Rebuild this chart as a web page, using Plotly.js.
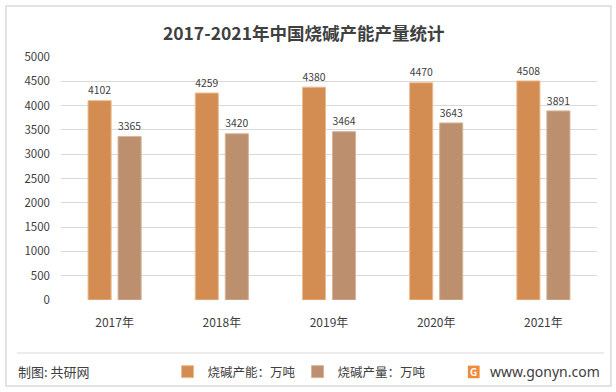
<!DOCTYPE html>
<html>
<head>
<meta charset="utf-8">
<script src="https://cdn.plot.ly/plotly-3.0.1.min.js"></script>
<style>html,body{margin:0;padding:0;background:#fff;}#chart{width:616px;height:392px;}</style>
</head>
<body>
<div id="chart"></div>
<script>
var categories = ['2017年', '2018年', '2019年', '2020年', '2021年'];
var capacity = [4102, 4259, 4380, 4470, 4508];
var output = [3365, 3420, 3464, 3643, 3891];
var seriesNames = ['烧碱产能：万吨', '烧碱产量：万吨'];
var yTicks = [0, 500, 1000, 1500, 2000, 2500, 3000, 3500, 4000, 4500, 5000];

var FONT = '"Microsoft YaHei", "Noto Sans CJK SC", "Noto Sans", sans-serif';

var traces = [
  {
    type: 'bar', name: seriesNames[0], x: categories, y: capacity,
    marker: {color: '#D38C51', line: {color: '#EDBD92', width: 1}},
    text: capacity.map(String), textposition: 'outside', cliponaxis: false,
    textfont: {family: FONT, size: 12.5, color: '#404040'}
  },
  {
    type: 'bar', name: seriesNames[1], x: categories, y: output,
    marker: {color: '#BC8F6F', line: {color: '#D6B59C', width: 1}},
    text: output.map(String), textposition: 'outside', cliponaxis: false,
    textfont: {family: FONT, size: 12.5, color: '#404040'}
  }
];

var layout = {
  width: 616, height: 392,
  margin: {l: 61, r: 19, t: 57, b: 92, autoexpand: false},
  paper_bgcolor: '#ffffff', plot_bgcolor: '#ffffff',
  font: {family: FONT, color: '#404040'},
  title: {text: '<b>2017-2021年中国烧碱产能产量统计</b>', font: {family: FONT, size: 17.5, color: '#404040'},
          x: 0.493, xanchor: 'center', y: 0.913, yanchor: 'middle'},
  barmode: 'group', bargap: 0.44, bargroupgap: 0.23,
  xaxis: {type: 'category', showgrid: false, zeroline: false, showline: false, ticks: '',
          tickfont: {family: FONT, size: 12, color: '#404040'}, ticklabelstandoff: 14},
  yaxis: {range: [0, 5000], tickvals: yTicks, ticktext: yTicks.map(String), showgrid: true,
          gridcolor: '#D9D9D9', gridwidth: 1, zeroline: false, showline: false, ticks: '',
          tickfont: {family: FONT, size: 11.5, color: '#404040'}, ticklabelstandoff: 10},
  showlegend: true,
  legend: {orientation: 'h', xref: 'container', yref: 'container', x: 0.272, xanchor: 'left',
           y: 0.051, yanchor: 'middle', entrywidth: 85, entrywidthmode: 'pixels',
           font: {family: FONT, size: 12.5, color: '#404040'}, itemwidth: 30, tracegroupgap: 0,
           bgcolor: 'rgba(0,0,0,0)'},
  shapes: [
    {type: 'rect', xref: 'paper', yref: 'paper', x0: -0.1026, x1: 1.026, y0: -0.354, y1: 1.21,
     line: {color: '#D9D9D9', width: 1.5}, fillcolor: 'rgba(0,0,0,0)', layer: 'below'},
    {type: 'line', xref: 'paper', yref: 'paper', x0: -0.082, x1: 1.013, y0: -0.218, y1: -0.218,
     line: {color: '#E6E6E6', width: 1.5}},
    {type: 'rect', xref: 'paper', yref: 'paper', x0: 0.759, x1: 0.781, y0: -0.27, y1: -0.322,
     line: {width: 0}, fillcolor: '#F08A3C'}
  ],
  annotations: [
    {text: '制图: 共研网', xref: 'paper', yref: 'paper', x: -0.084, y: -0.296, xanchor: 'left', yanchor: 'middle',
     showarrow: false, font: {family: FONT, size: 13, color: '#404040'}},
    {text: 'www.gonyn.com', xref: 'paper', yref: 'paper', x: 1.01, y: -0.296, xanchor: 'right', yanchor: 'middle',
     showarrow: false, font: {family: '"Noto Sans", "Open Sans", sans-serif', size: 14, color: '#404040'}},
    {text: '<b>G</b>', xref: 'paper', yref: 'paper', x: 0.770, y: -0.296, xanchor: 'center', yanchor: 'middle',
     showarrow: false, font: {family: FONT, size: 10, color: '#ffffff'}}
  ]
};

Plotly.newPlot('chart', traces, layout, {displayModeBar: false, staticPlot: true});
</script>
</body>
</html>
